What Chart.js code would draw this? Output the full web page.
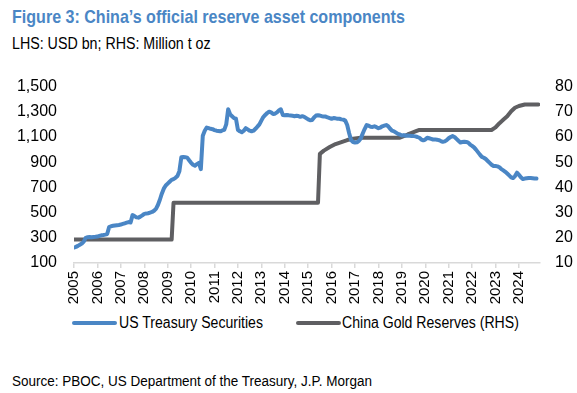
<!DOCTYPE html>
<html lang="en">
<head>
  <meta charset="UTF-8">
  <title>China's official reserve asset components</title>
  <script src="https://cdn.jsdelivr.net/npm/chart.js"></script>
  <style>
    body {
      margin: 0;
      width: 577px;
      height: 393px;
      background: #ffffff;
      font-family: 'Liberation Sans', Arial, sans-serif;
      position: relative;
      overflow: hidden;
    }
    .narrow {
      position: absolute;
      white-space: nowrap;
      transform-origin: left center;
    }
    .title {
      left: 12px;
      top: 6px;
      font-size: 19px;
      font-weight: bold;
      color: #4a86c5;
      transform: scaleX(0.845);
    }
    .subtitle {
      left: 12px;
      top: 35px;
      font-size: 16px;
      color: #000;
      transform: scaleX(0.89);
    }
    .source {
      left: 12px;
      top: 372px;
      font-size: 15.5px;
      color: #000;
      transform: scaleX(0.87);
    }
    .legend-item {
      top: 313px;
      font-size: 16px;
      line-height: 20px;
      color: #000;
      transform: scaleX(0.88);
    }
    .swatch {
      position: absolute;
      top: 321px;
      height: 4px;
      border-radius: 2px;
    }
    .chart-box {
      position: absolute;
      left: 0;
      top: 60px;
      width: 577px;
      height: 250px;
    }
  </style>
</head>
<body>
  <div class="narrow title">Figure 3: China’s official reserve asset components</div>
  <div class="narrow subtitle">LHS: USD bn; RHS: Million t oz</div>
  <div class="chart-box"><canvas id="reserveChart"></canvas></div>
  <div id="legend"></div>
  <div class="narrow source">Source: PBOC, US Department of the Treasury, J.P. Morgan</div>

  <script>
    // US Treasury holdings (USD bn), one row per year, monthly from Jan
    const startYear = 2005;
    const treasury = [
      [223, 228, 236, 245, 254, 270, 300, 305, 307, 305, 307, 308],
      [310, 315, 320, 322, 325, 330, 385, 392, 395, 398, 400, 402],
      [405, 410, 415, 420, 425, 422, 480, 472, 462, 460, 468, 478],
      [490, 492, 495, 500, 505, 515, 530, 560, 602, 650, 690, 715],
      [730, 745, 760, 766, 776, 790, 829, 940, 942, 940, 936, 915],
      [895, 880, 872, 885, 895, 845, 1110, 1150, 1175, 1170, 1165, 1162],
      [1155, 1150, 1148, 1145, 1152, 1157, 1200, 1320, 1280, 1265, 1250, 1245],
      [1157, 1145, 1137, 1150, 1170, 1160, 1150, 1145, 1150, 1165, 1182, 1200],
      [1230, 1258, 1275, 1290, 1301, 1295, 1283, 1285, 1295, 1310, 1320, 1275],
      [1272, 1275, 1272, 1270, 1268, 1265, 1268, 1266, 1260, 1265, 1260, 1250],
      [1240, 1233, 1235, 1255, 1270, 1272, 1270, 1265, 1263, 1262, 1255, 1250],
      [1245, 1250, 1248, 1245, 1245, 1240, 1238, 1230, 1195, 1130, 1075, 1060],
      [1056, 1058, 1069, 1090, 1130, 1165, 1195, 1190, 1182, 1180, 1185, 1178],
      [1170, 1175, 1185, 1190, 1195, 1185, 1165, 1150, 1145, 1135, 1125, 1120],
      [1112, 1115, 1110, 1112, 1110, 1108, 1107, 1105, 1100, 1094, 1080, 1074],
      [1080, 1094, 1090, 1085, 1080, 1081, 1078, 1075, 1068, 1062, 1065, 1075],
      [1090, 1100, 1107, 1100, 1085, 1070, 1056, 1060, 1063, 1061, 1055, 1040],
      [1030, 1018, 1000, 980, 960, 942, 935, 925, 910, 895, 880, 870],
      [870, 867, 860, 845, 835, 824, 810, 795, 780, 774, 790, 817],
      [800, 780, 766, 770, 772, 774, 775, 773, 771, 770]
    ];

    // China gold reserves (million troy oz), at the dates where it changes
    const goldDates = [2005.0, 2009.17, 2009.25, 2015.42, 2015.5, 2015.67, 2015.92, 2016.17,
      2016.42, 2016.67, 2016.92, 2017.25, 2018.92, 2019.08, 2019.25, 2019.42, 2019.58, 2019.75,
      2022.83, 2023.0, 2023.17, 2023.33, 2023.5, 2023.67, 2023.83, 2024.0, 2024.25, 2024.83];
    const goldValues = [19.3, 19.3, 33.9, 33.9, 53.3, 54.6, 56.0, 57.2,
      58.0, 58.8, 59.3, 59.7, 59.7, 60.3, 61.0, 61.6, 62.2, 62.8,
      62.8, 63.8, 65.5, 66.8, 68.2, 70.2, 71.6, 72.3, 72.9, 72.9];

    const seriesNames = ['US Treasury Securities', 'China Gold Reserves (RHS)'];
    const seriesColors = ['#4a86c5', '#5f5f62'];

    const treasuryPoints = [];
    treasury.forEach((row, y) => {
      row.forEach((v, m) => {
        treasuryPoints.push({ x: startYear + y + m / 12, y: v });
      });
    });
    const goldPoints = goldDates.map((d, i) => ({ x: d, y: goldValues[i] }));

    // simple html legend: line swatch + label
    const legendSpots = [{ line: 72, text: 119 }, { line: 296, text: 342 }];
    const legendEl = document.getElementById('legend');
    seriesNames.forEach((name, i) => {
      const sw = document.createElement('div');
      sw.className = 'swatch';
      sw.style.left = legendSpots[i].line + 'px';
      sw.style.width = '45px';
      sw.style.background = seriesColors[i];
      legendEl.appendChild(sw);
      const lab = document.createElement('div');
      lab.className = 'narrow legend-item';
      lab.style.left = legendSpots[i].text + 'px';
      lab.textContent = name;
      legendEl.appendChild(lab);
    });

    Chart.defaults.font.family = "'Liberation Sans', Arial, sans-serif";
    Chart.defaults.font.size = 16;
    Chart.defaults.color = '#000';

    new Chart(document.getElementById('reserveChart'), {
      type: 'line',
      data: {
        datasets: [
          {
            label: seriesNames[0],
            data: treasuryPoints,
            yAxisID: 'y',
            borderColor: seriesColors[0],
            borderWidth: 4,
            borderCapStyle: 'round',
            borderJoinStyle: 'round',
            pointRadius: 0,
            tension: 0
          },
          {
            label: seriesNames[1],
            data: goldPoints,
            yAxisID: 'y1',
            borderColor: seriesColors[1],
            borderWidth: 4,
            borderCapStyle: 'round',
            borderJoinStyle: 'round',
            pointRadius: 0,
            tension: 0
          }
        ]
      },
      options: {
        responsive: true,
        maintainAspectRatio: false,
        animation: false,
        locale: 'en-US',
        layout: { padding: { top: 18, left: 0, right: 0, bottom: 0 } },
        plugins: {
          tooltip: { enabled: false },
          legend: { display: false }
        },
        scales: {
          x: {
            type: 'linear',
            min: 2005,
            max: 2024.9,
            grid: { drawOnChartArea: false, tickLength: 5, color: '#d9d9d9', lineWidth: 1.5 },
            border: { color: '#d9d9d9', width: 1.5 },
            ticks: {
              stepSize: 1,
              includeBounds: false,
              autoSkip: false,
              minRotation: 90,
              maxRotation: 90,
              padding: 3,
              font: { size: 15 },
              callback: v => String(v)
            },
            afterFit: scale => { scale.height = 47; }
          },
          y: {
            position: 'left',
            min: 100,
            max: 1500,
            grid: { display: false, drawTicks: false },
            border: { display: false },
            ticks: { stepSize: 200, padding: 17 },
            afterFit: scale => { scale.width = 74; }
          },
          y1: {
            position: 'right',
            min: 10,
            max: 80,
            grid: { display: false, drawTicks: false },
            border: { display: false },
            ticks: { stepSize: 10, padding: 15 },
            afterFit: scale => { scale.width = 37; }
          }
        }
      }
    });
  </script>
</body>
</html>
